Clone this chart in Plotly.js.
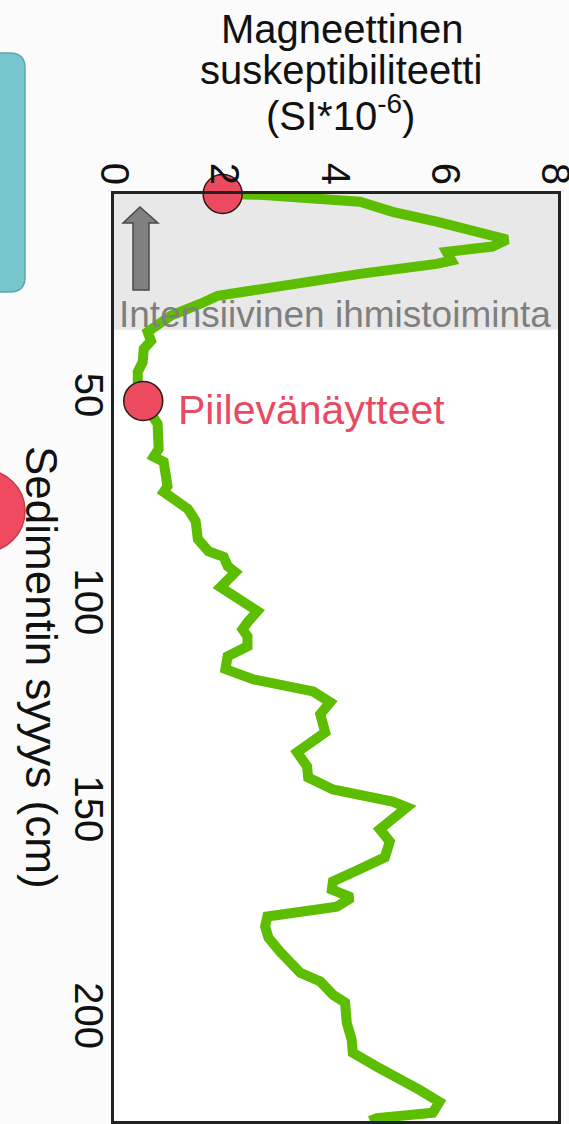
<!DOCTYPE html>
<html><head><meta charset="utf-8">
<script src="https://cdn.plot.ly/plotly-3.0.1.min.js"></script>
<style>html,body{margin:0;padding:0;background:#fbfbfb;}#chart{width:569px;height:1124px;}</style>
</head><body><div id="chart"></div>
<script>
// Sediment depth (cm) and magnetic susceptibility (SI*10^-6)
const depthCm = [0, 0.2, 1.85, 4.3, 6.7, 9.6, 11.0, 12.7, 14.0, 16.1, 16.9, 19.3, 21.7, 24.6, 26.5, 29.4, 33.3, 35.5, 37.4, 40.6, 43.0, 46.4, 50.2, 55.5, 61.6, 63.5, 64.7, 70.6, 72.0, 74.2, 76.1, 79.0, 83.4, 86.3, 87.7, 89.9, 91.4, 95.0, 97.4, 100.8, 103.5, 105.2, 106.9, 109.3, 111.7, 114.8, 117.3, 120.2, 122.8, 125.7, 130.1, 134.9, 138.3, 141.0, 143.9, 146.8, 148.2, 151.1, 153.5, 156.5, 160.3, 162.8, 166.1, 168.1, 170.0, 172.2, 174.6, 177.0, 179.7, 183.1, 185.5, 188.2, 190.3, 193.5, 195.4, 200.3, 204.4, 207.5, 210.9, 213.6, 216.5, 219.4, 222.0, 223.3, 224.0];
const susceptibility = [1.97, 2.65, 4.46, 5.05, 5.85, 6.81, 7.13, 6.86, 6.03, 6.12, 5.85, 4.46, 3.25, 1.88, 1.57, 1.03, 0.61, 0.67, 0.54, 0.52, 0.43, 0.43, 0.52, 0.79, 0.81, 0.72, 0.90, 0.97, 0.90, 1.17, 1.34, 1.48, 1.52, 1.71, 1.99, 2.06, 2.20, 1.93, 2.24, 2.60, 2.42, 2.33, 2.42, 2.42, 2.06, 2.02, 2.53, 3.61, 3.92, 3.74, 3.83, 3.32, 3.50, 3.52, 3.97, 5.05, 5.31, 5.00, 4.82, 5.00, 4.91, 4.51, 3.97, 3.95, 4.31, 4.04, 2.78, 2.74, 2.80, 3.01, 3.19, 3.38, 3.74, 3.97, 4.19, 4.22, 4.31, 4.33, 4.77, 5.18, 5.54, 5.90, 5.78, 4.77, 4.64];
// Diatom sample points
const sampleDepths = [0, 50];
const sampleValues = [1.97, 0.53];
// Period of intensive human activity (depth range, cm)
const humanActivityDepth = [0, 32.8];
// Axis ticks
const xTickValues = [0, 2, 4, 6, 8];
const yTickValues = [50, 100, 150, 200];
// Texts
const titleLines = ['Magneettinen', 'suskeptibiliteetti', '(SI*10<sup>-6</sup>)'];
const yTitle = 'Sedimentin syyys (cm)';
const activityLabel = 'Intensiivinen ihmistoiminta';
const sampleLabel = 'Piilevänäytteet';

const W = 569, H = 1124;
const M = {l: 114, r: 11, t: 194, b: 3};
const PW = W - M.l - M.r, PH = H - M.t - M.b;
const px = x => (x - M.l) / PW;
const py = y => (H - M.b - y) / PH;
const FONT = 'Liberation Sans, Arial, sans-serif';

const traces = [
  {x: susceptibility, y: depthCm, type: 'scatter', mode: 'lines',
   line: {color: '#5dbd00', width: 10, shape: 'linear'}, hoverinfo: 'skip', cliponaxis: true},
  {x: sampleValues, y: sampleDepths, type: 'scatter', mode: 'markers',
   marker: {size: 39, color: '#ec4a5e', line: {color: '#2a1a1a', width: 1.5}}, cliponaxis: false, hoverinfo: 'skip'}
];

function roundRect(x0, y0, x1, y1, r) {
  const X = v => px(v).toFixed(5), Y = v => py(v).toFixed(5);
  return `M ${X(x0)},${Y(y0 + r)} L ${X(x0)},${Y(y1 - r)} Q ${X(x0)},${Y(y1)} ${X(x0 + r)},${Y(y1)} L ${X(x1 - r)},${Y(y1)} Q ${X(x1)},${Y(y1)} ${X(x1)},${Y(y1 - r)} L ${X(x1)},${Y(y0 + r)} Q ${X(x1)},${Y(y0)} ${X(x1 - r)},${Y(y0)} L ${X(x0 + r)},${Y(y0)} Q ${X(x0)},${Y(y0)} ${X(x0)},${Y(y0 + r)} Z`;
}
function arrowPath() {
  const X = v => px(v).toFixed(5), Y = v => py(v).toFixed(5);
  return `M ${X(140)},${Y(207)} L ${X(158)},${Y(223)} L ${X(149)},${Y(223)} L ${X(149)},${Y(290)} L ${X(133)},${Y(290)} L ${X(133)},${Y(223)} L ${X(123)},${Y(223)} Z`;
}

const shapes = [
  {type: 'rect', xref: 'paper', x0: 0, x1: 1, yref: 'y', y0: humanActivityDepth[0], y1: humanActivityDepth[1],
   fillcolor: '#e8e8e8', line: {width: 0}, layer: 'below'},
  {type: 'path', xref: 'paper', yref: 'paper', path: arrowPath(), fillcolor: '#808080', line: {color: '#4a4a4a', width: 1.5}},
  {type: 'path', xref: 'paper', yref: 'paper', path: roundRect(-30, 53, 25, 292, 15), fillcolor: '#78c6cd', line: {color: '#5aa6ae', width: 1.5}},
  {type: 'circle', xref: 'paper', yref: 'paper', x0: px(-57), x1: px(25), y0: py(552), y1: py(470), fillcolor: '#ef4a5f', line: {color: '#c23b4d', width: 1.5}}
];

const annotations = [
  {text: titleLines[0], x: px(342), y: py(29)},
  {text: titleLines[1], x: px(341), y: py(70)},
  {text: titleLines[2], x: px(340), y: py(113)},
].map(a => Object.assign(a, {xref: 'paper', yref: 'paper', xanchor: 'center', yanchor: 'middle', showarrow: false, font: {family: FONT, size: 40, color: '#111'}}));

annotations.push(
  {text: activityLabel, xref: 'paper', yref: 'paper', x: px(335), y: py(314), xanchor: 'center', yanchor: 'middle', showarrow: false,
   font: {family: FONT, size: 37, color: '#7f7f7f'}},
  {text: sampleLabel, xref: 'paper', yref: 'paper', x: px(311), y: py(410), xanchor: 'center', yanchor: 'middle', showarrow: false,
   font: {family: FONT, size: 41, color: '#e84a5f'}},
  {text: yTitle, xref: 'paper', yref: 'paper', x: px(42), y: py(667), xanchor: 'center', yanchor: 'middle', showarrow: false, textangle: 90,
   font: {family: FONT, size: 44, color: '#111'}}
);

const layout = {
  width: W, height: H,
  margin: M,
  paper_bgcolor: '#fbfbfb', plot_bgcolor: '#ffffff',
  showlegend: false,
  font: {family: FONT, color: '#111'},
  xaxis: {range: [0, 8.05], side: 'top', tickvals: xTickValues, tickangle: 90, ticks: '', showgrid: false, zeroline: false,
          ticklabeloverflow: 'allow', ticklabelstandoff: -8,
          showline: true, mirror: true, linecolor: '#222', linewidth: 3, tickfont: {family: FONT, size: 40, color: '#111'}, fixedrange: true},
  yaxis: {range: [224, 0], tickvals: yTickValues, tickangle: 90, ticks: '', showgrid: false, zeroline: false,
          ticklabeloverflow: 'allow', ticklabelstandoff: -12,
          showline: true, mirror: true, linecolor: '#222', linewidth: 3, tickfont: {family: FONT, size: 40, color: '#111'}, fixedrange: true},
  shapes: shapes,
  annotations: annotations
};

Plotly.newPlot('chart', traces, layout, {displayModeBar: false, staticPlot: true});
</script>
</body></html>
